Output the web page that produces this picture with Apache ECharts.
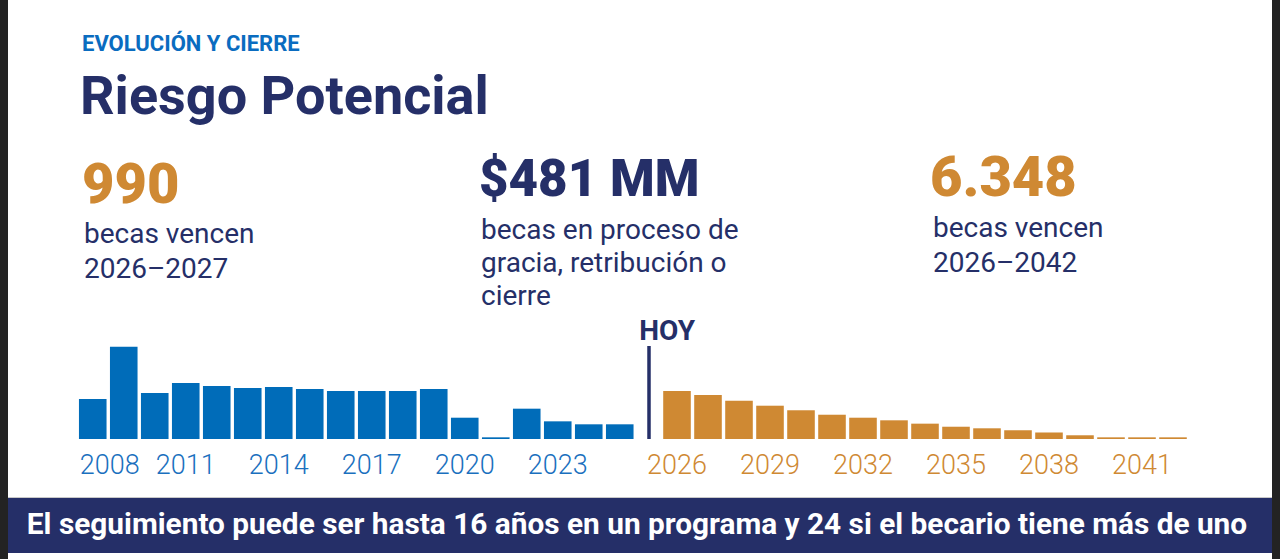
<!DOCTYPE html>
<html>
<head>
    <meta charset="utf-8">
    <script src="https://cdn.jsdelivr.net/npm/echarts@6/dist/echarts.min.js"></script>
</head>
<body style="margin: 0; background: #232323;">
<div id="container" style="height: 559px; width: 1280px;"></div>
<script>

// years before "HOY" (blue) and after (orange)
var pastYears = ['2008', '2009', '2010', '2011', '2012', '2013', '2014', '2015', '2016',
                 '2017', '2018', '2019', '2020', '2021', '2022', '2023', '2024', '2025'];
var pastValues = [430, 992, 495, 602, 570, 548, 559, 538, 516,
                  516, 516, 538, 229, 18, 326, 190, 158, 158];

var futureYears = ['2026', '2027', '2028', '2029', '2030', '2031', '2032', '2033', '2034',
                   '2035', '2036', '2037', '2038', '2039', '2040', '2041', '2042'];
var futureValues = [516, 473, 412, 358, 309, 261, 229, 201, 165,
                    132, 115, 94, 70, 40, 18, 18, 18];

var todayMark = ['HOY'];

// headline figures
var kpiLeft = ['990', 'becas vencen\n2026–2027'];
var kpiMid = ['$481 MM', 'becas en proceso de\ngracia, retribución o\ncierre'];
var kpiRight = ['6.348', 'becas vencen\n2026–2042'];
var footNote = 'El seguimiento puede ser hasta 16 años en un programa y 24 si el becario tiene más de uno';

var NAVY = '#252f68';
var BLUE = '#006cb9';
var ORANGE = '#cf8933';
var FONT = 'Roboto, "Noto Sans", sans-serif';

var dom = document.getElementById('container');
var myChart = echarts.init(dom, null, {renderer: 'svg'});

function yearAxis(grid, years, color, firstShift) {
    return {
        type: 'category',
        gridIndex: grid,
        data: years,
        boundaryGap: true,
        axisLine: {show: false},
        axisTick: {show: false},
        axisLabel: {
            interval: 2,
            margin: 12,
            color: color,
            fontFamily: FONT,
            fontSize: 27,
            fontWeight: 300,
            formatter: function (v, i) {
                return (i === 0 && firstShift) ? '{f|' + v + '}' : v;
            },
            rich: {
                f: {padding: [0, 0, 0, 34], color: color, fontFamily: FONT, fontSize: 27, fontWeight: 300}
            }
        }
    };
}

function valueAxis(grid) {
    return {type: 'value', gridIndex: grid, min: 0, max: 1000, show: false};
}

var option = {
    animation: false,
    grid: [
        {left: 77.25, width: 558, top: 346, height: 93},
        {left: 661.5, width: 527, top: 346, height: 93},
        {left: 633.3, width: 30, top: 346, height: 93}
    ],
    xAxis: [
        yearAxis(0, pastYears, '#1a70be', true),
        yearAxis(1, futureYears, ORANGE, false),
        {type: 'category', gridIndex: 2, data: todayMark, show: false}
    ],
    yAxis: [valueAxis(0), valueAxis(1), valueAxis(2)],
    series: [
        {
            name: 'past',
            type: 'bar',
            xAxisIndex: 0,
            yAxisIndex: 0,
            data: pastValues,
            barCategoryGap: '11%',
            itemStyle: {color: BLUE}
        },
        {
            name: 'future',
            type: 'bar',
            xAxisIndex: 1,
            yAxisIndex: 1,
            data: futureValues,
            barCategoryGap: '11%',
            itemStyle: {color: ORANGE}
        },
        {
            name: 'today',
            type: 'bar',
            xAxisIndex: 2,
            yAxisIndex: 2,
            data: [null],
            silent: true,
            markLine: {
                silent: true,
                symbol: ['none', 'none'],
                lineStyle: {color: NAVY, width: 3.5, type: 'solid'},
                label: {
                    position: 'end',
                    formatter: todayMark[0],
                    color: NAVY,
                    fontFamily: FONT,
                    fontSize: 28,
                    fontWeight: 'bold',
                    align: 'left',
                    padding: [0, 0, 0, -9],
                    distance: 2
                },
                data: [{xAxis: todayMark[0]}]
            }
        }
    ],
    graphic: [
        // white page with dark side borders
        {type: 'rect', z: -10, shape: {x: 8, y: 0, width: 1264, height: 559}, style: {fill: '#ffffff'}},
        // bottom banner
        {type: 'rect', z: -5, shape: {x: 8, y: 497, width: 1264, height: 1}, style: {fill: '#c9c9c9'}},
        {type: 'rect', z: -5, shape: {x: 8, y: 498, width: 1264, height: 55}, style: {fill: NAVY}},
        {type: 'text', style: {text: footNote, x: 637, y: 523, textAlign: 'center', textVerticalAlign: 'middle',
            fill: '#ffffff', font: 'bold 29.8px ' + FONT}},

        // header
        {type: 'text', style: {text: 'EVOLUCIÓN Y CIERRE', x: 82, y: 43, textVerticalAlign: 'middle',
            fill: '#0a6cc0', font: 'bold 22px ' + FONT}},
        {type: 'text', style: {text: 'Riesgo Potencial', x: 80, y: 95, textVerticalAlign: 'middle',
            fill: NAVY, font: 'bold 54px ' + FONT}},

        // headline figures
        {type: 'text', style: {text: kpiLeft[0], x: 82, y: 184, textVerticalAlign: 'middle',
            fill: ORANGE, font: '900 56px ' + FONT}},
        {type: 'text', style: {text: kpiLeft[1], x: 84, y: 216, lineHeight: 35, textVerticalAlign: 'top',
            fill: NAVY, font: '28px ' + FONT}},

        {type: 'text', style: {text: kpiMid[0], x: 479, y: 178, textVerticalAlign: 'middle',
            fill: NAVY, font: '900 51px ' + FONT}},
        {type: 'text', style: {text: kpiMid[1], x: 481, y: 213, lineHeight: 33, textVerticalAlign: 'top',
            fill: NAVY, font: '28px ' + FONT}},

        {type: 'text', style: {text: kpiRight[0], x: 930, y: 177, textVerticalAlign: 'middle',
            fill: ORANGE, font: '900 56px ' + FONT}},
        {type: 'text', style: {text: kpiRight[1], x: 933, y: 210, lineHeight: 35, textVerticalAlign: 'top',
            fill: NAVY, font: '28px ' + FONT}}
    ]
};

myChart.setOption(option);

</script>
</body>
</html>
